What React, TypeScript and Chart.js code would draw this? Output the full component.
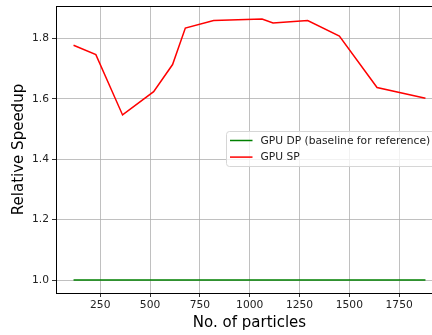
import React, { useEffect, useRef } from "react";
import { Chart, registerables } from "chart.js";

Chart.register(...registerables);

const particles = [116, 228, 362, 518, 613, 677, 819, 1062, 1117, 1291, 1450, 1639, 1882];
const gpuDP = [1, 1, 1, 1, 1, 1, 1, 1, 1, 1, 1, 1, 1];
const gpuSP = [1.778, 1.747, 1.547, 1.624, 1.714, 1.835, 1.86, 1.865, 1.852, 1.86, 1.808, 1.638, 1.602];
const xTicks = [250, 500, 750, 1000, 1250, 1500, 1750];
const yTicks = [1.0, 1.2, 1.4, 1.6, 1.8];
const seriesLabels = ["GPU DP (baseline for reference)", "GPU SP"];

const FONT = '"DejaVu Sans", sans-serif';
const SMALL = 10.7;
const BIG = 15;

const framePlugin = {
  id: "frameAndLegend",
  afterDraw(chart: any) {
    const { ctx, chartArea } = chart;
    ctx.save();
    ctx.strokeStyle = "#000";
    ctx.lineWidth = 1;
    ctx.beginPath();
    ctx.moveTo(chartArea.left, chartArea.top + 0.5);
    ctx.lineTo(chartArea.right, chartArea.top + 0.5);
    ctx.lineTo(chartArea.right, chartArea.bottom);
    ctx.stroke();
    ctx.font = SMALL + "px " + FONT;
    const x0 = chartArea.left + 170.5;
    const y0 = chartArea.top + 125.5;
    const ds = chart.data.datasets;
    let tw = 0;
    ds.forEach((d: any) => {
      tw = Math.max(tw, ctx.measureText(d.label).width);
    });
    const w = 34 + tw + 5;
    const h = 35;
    const r = 3;
    ctx.beginPath();
    ctx.moveTo(x0 + r, y0);
    ctx.lineTo(x0 + w - r, y0);
    ctx.arcTo(x0 + w, y0, x0 + w, y0 + r, r);
    ctx.lineTo(x0 + w, y0 + h - r);
    ctx.arcTo(x0 + w, y0 + h, x0 + w - r, y0 + h, r);
    ctx.lineTo(x0 + r, y0 + h);
    ctx.arcTo(x0, y0 + h, x0, y0 + h - r, r);
    ctx.lineTo(x0, y0 + r);
    ctx.arcTo(x0, y0, x0 + r, y0, r);
    ctx.closePath();
    ctx.fillStyle = "rgba(255,255,255,0.8)";
    ctx.fill();
    ctx.strokeStyle = "#d6d6d6";
    ctx.lineWidth = 1;
    ctx.stroke();
    ds.forEach((d: any, i: number) => {
      const ly = y0 + 9 + i * 16.6;
      ctx.strokeStyle = d.borderColor;
      ctx.lineWidth = 1.5;
      ctx.beginPath();
      ctx.moveTo(x0 + 3.5, ly);
      ctx.lineTo(x0 + 26, ly);
      ctx.stroke();
      ctx.fillStyle = "#222";
      ctx.textBaseline = "middle";
      ctx.textAlign = "left";
      ctx.fillText(d.label, x0 + 34, ly + 0.5);
    });
    ctx.restore();
  },
};

export default function App() {
  const ref = useRef<HTMLCanvasElement>(null);
  useEffect(() => {
    if (!ref.current) return;
    const chart = new Chart(ref.current, {
      type: "line",
      data: {
        datasets: [
          {
            label: seriesLabels[0],
            data: particles.map((x, i) => ({ x, y: gpuDP[i] })),
            borderColor: "#008000",
            borderWidth: 1.5,
            pointRadius: 0,
            tension: 0,
          },
          {
            label: seriesLabels[1],
            data: particles.map((x, i) => ({ x, y: gpuSP[i] })),
            borderColor: "#ff0000",
            borderWidth: 1.5,
            pointRadius: 0,
            tension: 0,
          },
        ],
      },
      options: {
        animation: false,
        responsive: false,
        devicePixelRatio: 1,
        layout: { padding: { top: 6, right: 7, left: 0, bottom: 0 } },
        plugins: { legend: { display: false }, tooltip: { enabled: false } },
        scales: {
          x: {
            type: "linear",
            min: 28,
            max: 1970,
            afterBuildTicks: (s: any) => {
              s.ticks = xTicks.map((v) => ({ value: v }));
            },
            afterFit: (s: any) => {
              s.height = 42;
              s.paddingLeft = 0;
              s.paddingRight = 0;
            },
            grid: { color: "#b0b0b0", lineWidth: 0.8, tickLength: 4, tickColor: "#000" },
            border: { color: "#000", width: 1 },
            ticks: {
              font: { family: FONT, size: SMALL },
              color: "#222",
              padding: 2,
              maxRotation: 0,
              callback: (v: any) => String(v),
            },
            title: {
              display: true,
              text: "No. of particles",
              font: { family: FONT, size: BIG },
              color: "#000",
              padding: { top: 0, bottom: 3 },
            },
          },
          y: {
            type: "linear",
            min: 0.957,
            max: 1.908,
            afterBuildTicks: (s: any) => {
              s.ticks = yTicks.map((v) => ({ value: v }));
            },
            afterFit: (s: any) => {
              s.width = 56;
              s.paddingTop = 0;
              s.paddingBottom = 0;
            },
            grid: { color: "#b0b0b0", lineWidth: 0.8, tickLength: 4, tickColor: "#000" },
            border: { color: "#000", width: 1 },
            ticks: {
              font: { family: FONT, size: SMALL },
              color: "#222",
              padding: 3,
              callback: (v: any) => Number(v).toFixed(1),
            },
            title: {
              display: true,
              text: "Relative Speedup",
              font: { family: FONT, size: BIG },
              color: "#000",
              padding: { top: 10, bottom: 0 },
            },
          },
        },
      },
      plugins: [framePlugin],
    } as any);
    return () => chart.destroy();
  }, []);
  return (
    <div style={{ position: "fixed", left: 0, top: 0, width: 450, height: 335, background: "#fff" }}>
      <canvas ref={ref} width={450} height={335} style={{ display: "block" }} />
    </div>
  );
}
